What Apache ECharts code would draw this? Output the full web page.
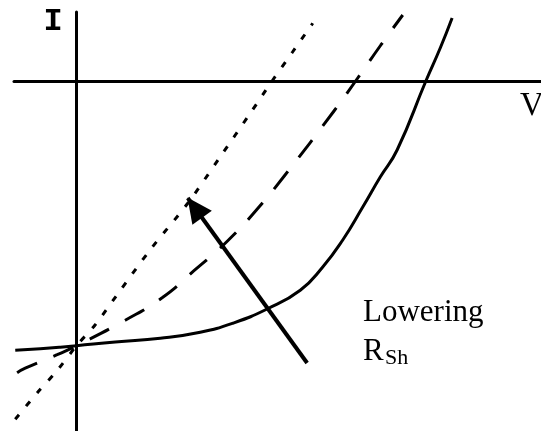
<!DOCTYPE html>
<html>
<head>
<meta charset="utf-8">
<script src="https://cdn.jsdelivr.net/npm/echarts@6/dist/echarts.min.js"></script>
<style>
  html, body { margin: 0; padding: 0; background: #fff; }
  #chart { width: 541px; height: 431px; }
</style>
</head>
<body>
<div id="chart"></div>
<script>
// Solar cell I-V curves for decreasing shunt resistance (V in volts, I in mA)
const solidV = [-0.098, -0.058, -0.026, 0, 0.062, 0.134, 0.198, 0.250, 0.305, 0.358, 0.394, 0.426, 0.458, 0.486, 0.513, 0.559, 0.582, 0.601];
const solidI = [-35.9, -35.7, -35.5, -35.3, -34.8, -34.3, -33.5, -32.3, -30.4, -27.9, -24.8, -21.2, -16.8, -12.8, -9.2, 0, 4.4, 8.4];

const dashV = [-0.095, -0.082, -0.031, 0, 0.078, 0.137, 0.188, 0.242, 0.292, 0.334, 0.412, 0.450, 0.487, 0.522];
const dashI = [-38.9, -38.3, -36.5, -35.3, -31.9, -28.9, -25.3, -21.3, -16.8, -12.5, -4.0, 0.4, 4.8, 8.8];

const dotV = [-0.098, -0.063, -0.030, 0, 0.030, 0.065, 0.118, 0.178, 0.230, 0.278, 0.313, 0.346, 0.378];
const dotI = [-45.1, -41.6, -38.5, -35.3, -32.5, -28.5, -22.5, -16.3, -10.1, -4.3, 0, 3.9, 7.7];

// Annotation arrow: from tail to head, in (V, I)
const arrowFrom = [0.369, -37.6];
const arrowTo = [0.178, -15.6];

const axisLabels = { x: 'V', y: 'I' };
const noteLines = ['Lowering', 'R', 'Sh'];

const zip = (xs, ys) => xs.map((x, i) => [x, ys[i]]);

const chart = echarts.init(document.getElementById('chart'), null, { renderer: 'canvas' });

const hiddenAxisParts = {
  axisTick: { show: false },
  axisLabel: { show: false },
  splitLine: { show: false }
};

chart.setOption({
  animation: false,
  backgroundColor: '#ffffff',
  grid: { left: 14, right: 0, top: 12, bottom: 0 },
  xAxis: Object.assign({
    type: 'value',
    min: -0.1,
    max: 0.7432,
    axisLine: { show: true, onZero: true, lineStyle: { color: '#000', width: 3 } }
  }, hiddenAxisParts),
  yAxis: Object.assign({
    type: 'value',
    min: -46.67,
    max: 9.2,
    axisLine: { show: true, onZero: true, lineStyle: { color: '#000', width: 3 } }
  }, hiddenAxisParts),
  series: [
    {
      type: 'line',
      data: zip(solidV, solidI),
      smooth: 0.5,
      symbol: 'none',
      lineStyle: { color: '#000', width: 3 }
    },
    {
      type: 'line',
      data: zip(dashV, dashI),
      smooth: true,
      symbol: 'none',
      lineStyle: { color: '#000', width: 3, type: [22, 18] }
    },
    {
      type: 'line',
      data: zip(dotV, dotI),
      smooth: 0.3,
      symbol: 'none',
      lineStyle: { color: '#000', width: 3, type: [6, 11] },
      markLine: {
        silent: true,
        animation: false,
        symbol: ['none', 'triangle'],
        symbolSize: [24, 25],
        symbolOffset: [[0, 0], [0, 12]],
        label: { show: false },
        lineStyle: { color: '#000', width: 4, type: 'solid' },
        data: [[{ coord: arrowFrom }, { coord: arrowTo }]]
      }
    }
  ],
  graphic: [
    {
      type: 'text',
      style: { x: 53, y: 22, text: axisLabels.y, font: 'bold 32px "Liberation Mono"', fill: '#000', align: 'center', verticalAlign: 'middle' }
    },
    {
      type: 'text',
      style: { x: 532, y: 106, text: axisLabels.x, font: '33px "Liberation Serif"', fill: '#000', align: 'center', verticalAlign: 'middle' }
    },
    {
      type: 'text',
      style: { x: 363, y: 313, text: noteLines[0], font: '31px "Liberation Serif"', fill: '#000', align: 'left', verticalAlign: 'middle' }
    },
    {
      type: 'text',
      style: { x: 363, y: 352, text: noteLines[1], font: '31px "Liberation Serif"', fill: '#000', align: 'left', verticalAlign: 'middle' }
    },
    {
      type: 'text',
      style: { x: 385, y: 358, text: noteLines[2], font: '22px "Liberation Serif"', fill: '#000', align: 'left', verticalAlign: 'middle' }
    }
  ]
});
</script>
</body>
</html>
